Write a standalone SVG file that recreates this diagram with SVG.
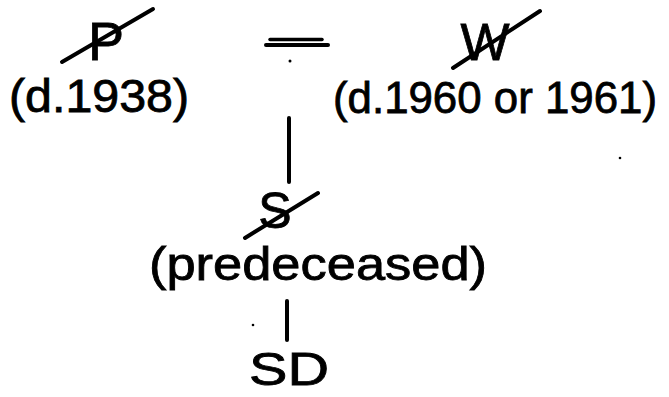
<svg xmlns="http://www.w3.org/2000/svg" width="669" height="397" viewBox="0 0 669 397">
<style>
.t{font-family:"Liberation Sans","DejaVu Sans",sans-serif;fill:#000;stroke:#000;stroke-width:0.8;}
.s{stroke:#000;stroke-linecap:round;fill:none;}
</style>
<rect width="669" height="397" fill="#fff"/>
<g id="node-P">
<text class="t" x="106" y="60" font-size="54" text-anchor="middle">P</text>
<line class="s" x1="62" y1="62" x2="153" y2="9" stroke-width="4"/>
<text class="t" x="9" y="112" font-size="46" textLength="180" lengthAdjust="spacingAndGlyphs">(d.1938)</text>
</g>
<g id="node-W">
<text class="t" x="485" y="60" font-size="52" text-anchor="middle">W</text>
<line class="s" x1="453" y1="68" x2="540" y2="11" stroke-width="4"/>
<text class="t" x="333" y="113" font-size="44" textLength="324" lengthAdjust="spacingAndGlyphs">(d.1960 or 1961)</text>
</g>
<g id="node-S">
<text class="t" x="275" y="228" font-size="50" text-anchor="middle">S</text>
<line class="s" x1="245" y1="238" x2="318" y2="193" stroke-width="4"/>
<text class="t" x="149" y="280" font-size="46" textLength="338" lengthAdjust="spacingAndGlyphs">(predeceased)</text>
</g>
<g id="node-SD">
<text class="t" x="289" y="385" font-size="46" text-anchor="middle" textLength="80" lengthAdjust="spacingAndGlyphs">SD</text>
</g>
<g id="connectors">
<line class="s" x1="270" y1="39.5" x2="322" y2="39.5" stroke-width="3.5"/>
<line class="s" x1="266" y1="45" x2="328" y2="45" stroke-width="4"/>
<line class="s" x1="289" y1="118" x2="289" y2="182" stroke-width="4"/>
<line class="s" x1="287" y1="301" x2="287" y2="340" stroke-width="4"/>
</g>
<circle cx="290" cy="61" r="1.5" fill="#000"/>
<circle cx="253" cy="325" r="1.3" fill="#000"/>
<circle cx="620" cy="158" r="1.3" fill="#000"/>
</svg>
